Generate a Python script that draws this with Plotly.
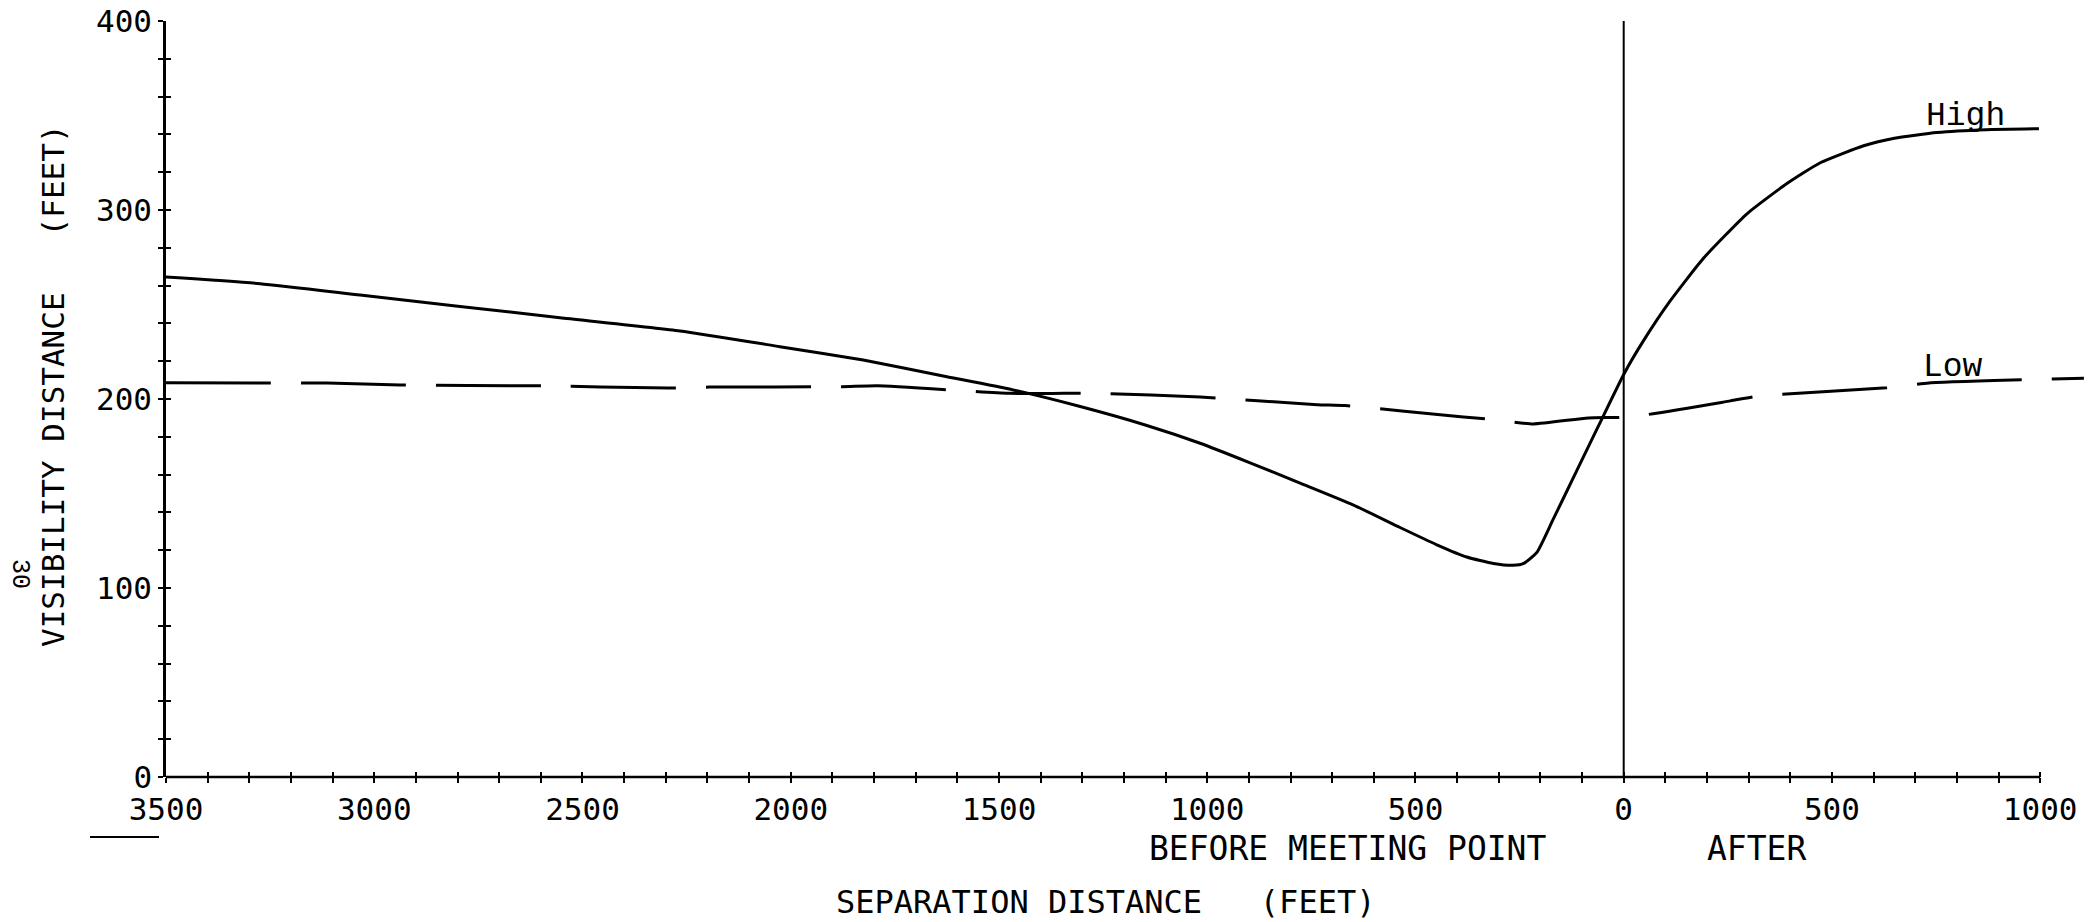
import plotly.graph_objects as go

# Separation distance in feet: negative = before the meeting point, positive = after
high_x = [-3500, -3274, -3034, -2794, -2554, -2266, -2026, -1826, -1625, -1466,
          -1305, -1145, -1017, -900, -777, -650, -537, -450, -377, -313,
          -266, -240, -208, -170, -113, -60, 0, 48, 112, 192,
          296, 392, 472, 576, 650, 752, 870, 997]
high_y = [264.5, 261, 255, 249, 243, 236, 227.7, 220.6, 211.8, 204.8,
          196, 186, 176.6, 166.5, 155.5, 144, 132, 123, 116.4, 113,
          112, 113, 119, 136, 162, 186, 213, 231, 252, 274.6,
          298, 314, 325, 334, 338, 341, 342.5, 343]

low_x = [-3500, -3274, -3113, -2938, -2612, -2295, -2195, -1878, -1792, -1477,
         -1345, -1257, -1017, -736, -669, -385, -308, -217, -85, 16,
         256, 324, 632, 733, 1105]
low_y = [208.6, 208.4, 208.5, 207.4, 207, 205.8, 206.3, 206.5, 207, 203,
         203, 203, 201, 197, 196.5, 190.5, 189, 186.8, 190, 190.5,
         199, 201.6, 206, 208.5, 211]

# Axis ticks: a cross every 100 ft / 20 ft, labels every 500 ft / 100 ft
x_tick_vals = list(range(-3500, 1001, 100))
x_tick_text = [str(abs(v)) if v % 500 == 0 else "" for v in x_tick_vals]
y_tick_vals = list(range(0, 401, 20))
y_tick_text = [str(v) if v % 100 == 0 else "" for v in y_tick_vals]

X_RANGE = [-3500, 1110]
Y_RANGE = [0, 400]

W, H = 2089, 922
ML, MR, MT, MB = 166, 3, 21, 145
PW, PH = W - ML - MR, H - MT - MB

MONO = "DejaVu Sans Mono"
TYPE = "Liberation Mono"


def fx(v):
    """data x -> paper x"""
    return (v - X_RANGE[0]) / (X_RANGE[1] - X_RANGE[0])


def px(xpix):
    return (xpix - ML) / PW


def py(ypix):
    return (H - MB - ypix) / PH


fig = go.Figure()
fig.add_trace(go.Scatter(
    x=high_x, y=high_y, mode="lines", name="High",
    line=dict(color="black", width=3, shape="spline", smoothing=0.5),
    showlegend=False, hoverinfo="skip"))
# the second curve sits on the overlay axes (same ranges) so their inner ticks are drawn
fig.add_trace(go.Scatter(
    x=low_x, y=low_y, mode="lines", name="Low", xaxis="x2", yaxis="y2",
    line=dict(color="black", width=3, dash="105px,30px", shape="spline", smoothing=0.5),
    showlegend=False, hoverinfo="skip"))

tick_common = dict(ticklen=5, tickwidth=2, tickcolor="black",
                   showgrid=False, zeroline=False)

fig.update_layout(
    width=W, height=H,
    margin=dict(l=ML, r=MR, t=MT, b=MB, pad=0),
    paper_bgcolor="white", plot_bgcolor="white",
    xaxis=dict(range=X_RANGE, tickmode="array", tickvals=x_tick_vals,
               ticktext=x_tick_text, ticks="outside", showline=False,
               ticklabelstandoff=0,
               tickfont=dict(family=MONO, size=31, color="black"), **tick_common),
    xaxis2=dict(range=X_RANGE, overlaying="x", anchor="y", side="bottom",
                tickmode="array", tickvals=x_tick_vals, ticks="inside",
                showticklabels=False, showline=False, **tick_common),
    yaxis=dict(range=Y_RANGE, tickmode="array", tickvals=y_tick_vals,
               ticktext=y_tick_text, ticks="outside", showline=True,
               linecolor="black", linewidth=2.5, ticklabelstandoff=0,
               tickfont=dict(family=MONO, size=31, color="black"), **tick_common),
    yaxis2=dict(range=Y_RANGE, overlaying="y", anchor="x", side="left",
                tickmode="array", tickvals=y_tick_vals, ticks="inside",
                showticklabels=False, showline=False, **tick_common),
)

# x axis baseline (stops at the last labelled tick) and the meeting-point line
fig.add_shape(type="line", xref="paper", yref="paper",
              x0=fx(x_tick_vals[0]), x1=fx(x_tick_vals[-1]), y0=0, y1=0,
              line=dict(color="black", width=2.5))
fig.add_shape(type="line", xref="x", yref="paper", x0=0, x1=0, y0=0, y1=1,
              line=dict(color="black", width=2))
# short stroke under the first label
fig.add_shape(type="line", xref="paper", yref="paper",
              x0=px(90), x1=px(159), y0=py(837), y1=py(837),
              line=dict(color="black", width=2))

annotations = [
    dict(text="VISIBILITY DISTANCE   (FEET)", x=px(53), y=py(386), textangle=-90,
         font=dict(family=MONO, size=31, color="black")),
    dict(text="SEPARATION DISTANCE   (FEET)", x=px(1105), y=py(902),
         font=dict(family=MONO, size=32, color="black")),
    dict(text="BEFORE MEETING POINT", x=px(1347), y=py(848),
         font=dict(family=MONO, size=33, color="black")),
    dict(text="AFTER", x=px(1756), y=py(848),
         font=dict(family=MONO, size=33, color="black")),
    dict(text="High", x=px(1965), y=py(116),
         font=dict(family=TYPE, size=33, color="black")),
    dict(text="Low", x=px(1953), y=py(367),
         font=dict(family=TYPE, size=33, color="black")),
    dict(text="30", x=px(19), y=py(574), textangle=90,
         font=dict(family=TYPE, size=25, color="black")),
]
for a in annotations:
    fig.add_annotation(xref="paper", yref="paper", showarrow=False,
                       xanchor="center", yanchor="middle", **a)

fig.write_html("out.html")
